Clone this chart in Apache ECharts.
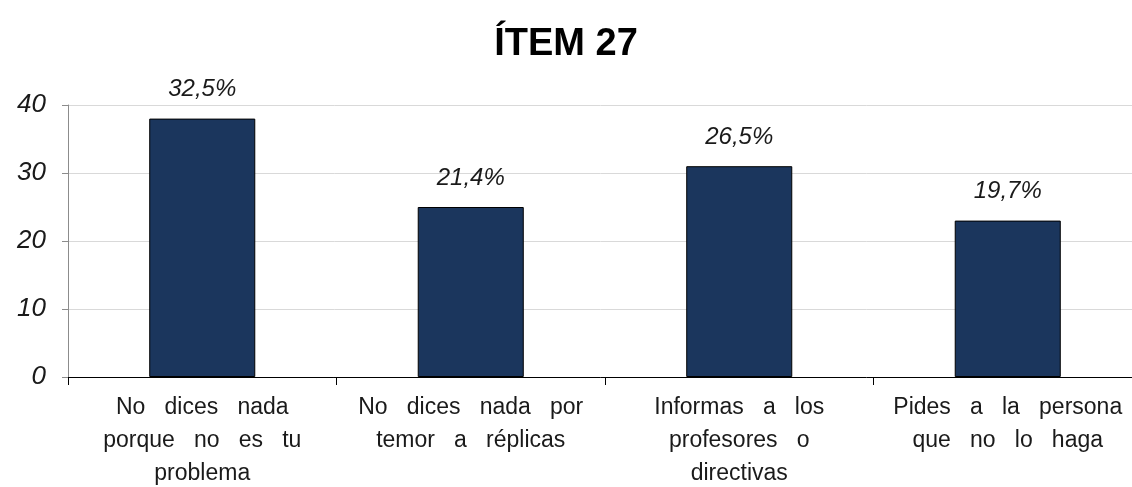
<!DOCTYPE html>
<html>
<head>
<meta charset="utf-8">
<script src="https://cdn.jsdelivr.net/npm/echarts@6/dist/echarts.min.js"></script>
<style>
  html, body { margin: 0; padding: 0; background: #fff; overflow: hidden; }
  #chart { width: 1132px; height: 487px; }
</style>
</head>
<body>
<div id="chart"></div>
<script>
// Ítem 27: respuestas (frecuencias) y su porcentaje sobre el total
const title = 'ÍTEM 27';
const categories = [
  'No   dices   nada\nporque   no   es   tu\nproblema',
  'No   dices   nada   por\ntemor   a   réplicas',
  'Informas   a   los\nprofesores   o\ndirectivas',
  'Pides   a   la   persona\nque   no   lo   haga'
];
const counts = [38, 25, 31, 23];
const yTicks = { min: 0, max: 40, interval: 10 };

const total = counts.reduce((a, b) => a + b, 0);
const pctLabel = v => (v / total * 100).toFixed(1).replace('.', ',') + '%';

const chart = echarts.init(document.getElementById('chart'));
chart.setOption({
  backgroundColor: '#ffffff',
  animation: false,
  title: {
    text: title,
    left: 'center',
    top: 21,
    textStyle: { fontFamily: 'Liberation Sans, Arial', fontWeight: 'bold', fontSize: 38, color: '#000' }
  },
  // the plot area runs a little past the right edge of the page
  grid: { left: 68, top: 105, width: 1074, height: 272, containLabel: false, outerBoundsMode: 'none' },
  xAxis: {
    type: 'category',
    data: categories,
    axisLine: { lineStyle: { color: '#000', width: 1 } },
    axisTick: { show: true, alignWithLabel: false, length: 8, lineStyle: { color: '#000' } },
    axisLabel: {
      interval: 0,
      margin: 14,
      fontFamily: 'Liberation Sans, Arial',
      fontSize: 23,
      color: '#1a1a1a',
      lineHeight: 33,
      align: 'center'
    },
    splitLine: { show: false }
  },
  yAxis: {
    type: 'value',
    min: yTicks.min,
    max: yTicks.max,
    interval: yTicks.interval,
    axisLine: { show: true, lineStyle: { color: '#8c8c8c' } },
    axisTick: { show: true, length: 6, lineStyle: { color: '#8c8c8c' } },
    axisLabel: {
      margin: 22,
      fontFamily: 'Liberation Sans, Arial',
      fontStyle: 'italic',
      fontSize: 26,
      color: '#1a1a1a'
    },
    splitLine: { show: true, lineStyle: { color: '#d9d9d9', width: 1 } }
  },
  series: [{
    type: 'bar',
    data: counts,
    barWidth: '39.5%',
    itemStyle: { color: '#1b365d', borderColor: '#000', borderWidth: 1 },
    label: {
      show: true,
      position: 'top',
      distance: 17,
      formatter: p => pctLabel(p.value),
      fontFamily: 'Liberation Sans, Arial',
      fontStyle: 'italic',
      fontSize: 24,
      color: '#1a1a1a'
    }
  }]
});
</script>
</body>
</html>
